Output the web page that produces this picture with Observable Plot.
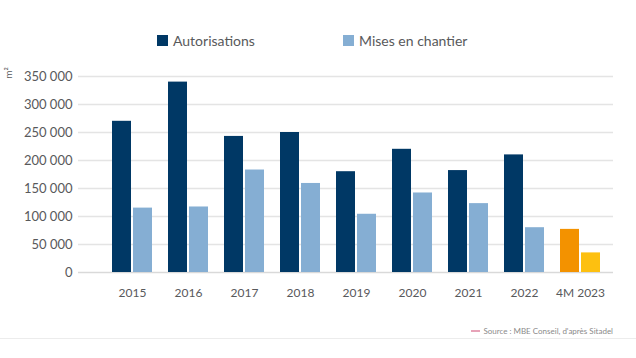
<!DOCTYPE html>
<html>
<head>
<meta charset="utf-8">
<script src="https://cdn.jsdelivr.net/npm/d3@7"></script>
<script src="https://cdn.jsdelivr.net/npm/@observablehq/plot@0.6"></script>
<style>
  html, body { margin: 0; padding: 0; background: #fff; }
  #wrap { position: relative; width: 636px; height: 358px; font-family: Lato, "Open Sans", sans-serif; color: #58595b; overflow: hidden; }
  #chart { position: absolute; left: 0; top: 0; }
  .leg { position: absolute; top: 32px; height: 16px; display: flex; align-items: center; font-size: 14px; white-space: nowrap; }
  .sw { width: 11px; height: 11px; margin-right: 5px; }
  #unit { position: absolute; left: 2px; top: 67px; font-size: 10px; transform: rotate(-90deg); transform-origin: center; }
  #src { position: absolute; top: 326px; right: 23px; font-size: 8px; color: #8a8a8a; display: flex; align-items: center; white-space: nowrap; }
  #src .dash { width: 9px; height: 1.5px; background: #e7a3b8; margin-right: 3px; }
  #hr { position: absolute; left: 0; right: 0; top: 338px; height: 1px; background: #ececec; }
</style>
</head>
<body>
<div id="wrap">
  <div id="chart"></div>
  <div class="leg" style="left:157px"><div class="sw" style="background:#003865"></div><span>Autorisations</span></div>
  <div class="leg" style="left:343px"><div class="sw" style="background:#85aed3"></div><span>Mises en chantier</span></div>
  <div id="unit">m²</div>
  <div id="src"><div class="dash"></div><span>Source : MBE Conseil, d'après Sitadel</span></div>
  <div id="hr"></div>
</div>
<script>
const years = ["2015", "2016", "2017", "2018", "2019", "2020", "2021", "2022", "4M 2023"];
const autorisations = [270000, 340000, 243000, 250000, 180000, 220000, 182000, 210000, 77000];
const mises = [115000, 117000, 183000, 159000, 104000, 142000, 123000, 80000, 35000];
const yTicks = [0, 50000, 100000, 150000, 200000, 250000, 300000, 350000];
const partialYear = "4M 2023";

const colors = {
  aut: "#003865", mis: "#85aed3", autPartial: "#f39200", misPartial: "#fdc010"
};

const autData = years.map((year, i) => ({year, value: autorisations[i]}));
const misData = years.map((year, i) => ({year, value: mises[i]}));

const fmt = d => d3.format(",")(d).replace(/,/g, " ");

const plot = Plot.plot({
  width: 636,
  height: 358,
  marginTop: 76,
  marginBottom: 86,
  marginLeft: 78,
  marginRight: 23,
  style: { fontFamily: "Lato, 'Open Sans', sans-serif", color: "#58595b", background: "transparent" },
  x: { domain: years, range: [101.75, 610.75], paddingInner: 0.29, paddingOuter: 0.145, label: null },
  y: { domain: [0, 350000], label: null },
  marks: [
    Plot.ruleY(yTicks.filter(d => d > 0), { stroke: "#e4e4e4", strokeWidth: 1.5 }),
    Plot.ruleY([0], { stroke: "#d9d9d9", strokeWidth: 1.5 }),
    Plot.barY(autData, {
      x: "year", y: "value", insetRight: 21,
      fill: d => d.year === partialYear ? colors.autPartial : colors.aut
    }),
    Plot.barY(misData, {
      x: "year", y: "value", insetLeft: 21,
      fill: d => d.year === partialYear ? colors.misPartial : colors.mis
    }),
    Plot.axisY({ ticks: yTicks, tickFormat: fmt, tickSize: 0, tickPadding: 6, fontSize: 13, label: null, fill: "#58595b" }),
    Plot.axisX({ tickSize: 0, tickPadding: 16, fontSize: 12, label: null, fill: "#58595b" })
  ]
});
document.getElementById("chart").appendChild(plot);
</script>
</body>
</html>
